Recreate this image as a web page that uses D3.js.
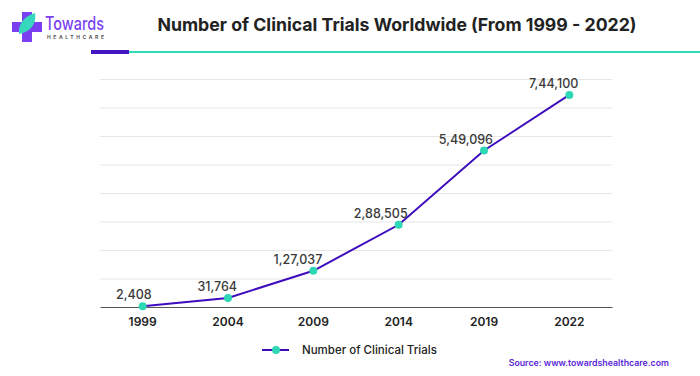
<!DOCTYPE html>
<html>
<head>
<meta charset="utf-8">
<script src="https://cdn.jsdelivr.net/npm/d3@7"></script>
<style>
  body { margin: 0; background: #fff; }
  svg { display: block; font-family: Inter, "Open Sans", sans-serif; }
</style>
</head>
<body>
<svg id="chart" width="700" height="376"></svg>
<script>
const years = ["1999", "2004", "2009", "2014", "2019", "2022"];
const trials = [2408, 31764, 127037, 288505, 549096, 744100];
const yTicks = [0, 100000, 200000, 300000, 400000, 500000, 600000, 700000, 800000];
const seriesName = "Number of Clinical Trials";

const svg = d3.select("#chart");
const margin = { top: 79, right: 88, bottom: 69, left: 100 };
const width = +svg.attr("width") - margin.left - margin.right;
const height = +svg.attr("height") - margin.top - margin.bottom;
const g = svg.append("g").attr("transform", `translate(${margin.left},${margin.top})`);

const lineColor = "#3d0dbd";
const dotColor = "#2fd8b5";

// header: logo
const logo = svg.append("g");
logo.append("rect").attr("x", 22).attr("y", 12).attr("width", 10).attr("height", 30).attr("fill", "#7b3ff2");
logo.append("rect").attr("x", 12).attr("y", 22).attr("width", 30).attr("height", 10).attr("fill", "#7b3ff2");
logo.append("path")
    .attr("d", "M19,34 C18,23 25,16 35,13 C37,24 30,32 19,34 Z")
    .attr("fill", "#36d7bd");
logo.append("text")
    .attr("x", 45).attr("y", 30)
    .attr("textLength", 59).attr("lengthAdjust", "spacingAndGlyphs")
    .style("font-size", "18px").style("font-weight", 500)
    .attr("fill", "#7b3ff2")
    .text("Towards");
logo.append("text")
    .attr("x", 47).attr("y", 39)
    .attr("textLength", 57).attr("lengthAdjust", "spacing")
    .style("font-size", "5px").style("font-weight", 700)
    .attr("fill", "#555")
    .text("HEALTHCARE");

// title
svg.append("text")
    .attr("x", 397).attr("y", 31)
    .attr("text-anchor", "middle")
    .style("font-size", "17.7px").style("font-weight", 700)
    .attr("fill", "#222")
    .text("Number of Clinical Trials Worldwide (From 1999 - 2022)");

svg.append("line")
    .attr("x1", 128).attr("x2", 700).attr("y1", 52).attr("y2", 52)
    .attr("stroke", "#2fdcb8").attr("stroke-width", 2);
svg.append("line")
    .attr("x1", 91).attr("x2", 129).attr("y1", 52).attr("y2", 52)
    .attr("stroke", "#4416c4").attr("stroke-width", 4);

// scales
const x = d3.scaleBand().domain(years).range([0, width]);
const y = d3.scaleLinear().domain([0, 800000]).range([height, 0]);
const cx = d => x(d) + x.bandwidth() / 2;

// gridlines
g.append("g")
    .call(d3.axisLeft(y).tickValues(yTicks.slice(1)).tickSize(-width).tickFormat(""))
    .call(a => a.select(".domain").remove())
    .selectAll("line").attr("stroke", "#e6e6e6");

// x axis
g.append("g")
    .attr("transform", `translate(0,${height})`)
    .call(d3.axisBottom(x).tickSize(0).tickPadding(10))
    .call(a => a.select(".domain").attr("stroke", "#555"))
    .selectAll("text")
    .style("font-size", "12px").style("font-weight", 600)
    .style("font-family", "Inter, sans-serif")
    .attr("fill", "#222");

const data = years.map((yr, i) => ({ year: yr, value: trials[i] }));

g.append("path")
    .datum(data)
    .attr("fill", "none")
    .attr("stroke", lineColor)
    .attr("stroke-width", 2)
    .attr("d", d3.line().x(d => cx(d.year)).y(d => y(d.value)));

g.selectAll(".dot")
    .data(data)
    .enter()
    .append("circle")
    .attr("class", "dot")
    .attr("cx", d => cx(d.year))
    .attr("cy", d => y(d.value))
    .attr("r", 4)
    .attr("fill", dotColor);

const fmt = v => {
    // Indian digit grouping
    const s = String(v);
    if (s.length <= 3) return s;
    const last3 = s.slice(-3);
    const rest = s.slice(0, -3).replace(/\B(?=(\d{2})+(?!\d))/g, ",");
    return rest + "," + last3;
};

g.selectAll(".lbl")
    .data(data)
    .enter()
    .append("text")
    .attr("class", "lbl")
    .attr("x", d => cx(d.year) + 9)
    .attr("y", d => y(d.value) - 7)
    .attr("text-anchor", "end")
    .style("font-size", "12.5px").style("font-weight", 500)
    .attr("fill", "#3a3a3a")
    .text(d => fmt(d.value));

// legend
const legend = svg.append("g").attr("transform", "translate(262,350)");
legend.append("line").attr("x1", 0).attr("x2", 27).attr("y1", 0).attr("y2", 0)
    .attr("stroke", lineColor).attr("stroke-width", 2);
legend.append("circle").attr("cx", 14).attr("cy", 0).attr("r", 4).attr("fill", dotColor);
legend.append("text")
    .attr("x", 40).attr("y", 4.2)
    .style("font-size", "11.5px").style("font-weight", 500)
    .attr("fill", "#222")
    .text(seriesName);

// source
svg.append("text")
    .attr("x", 669).attr("y", 366)
    .attr("text-anchor", "end")
    .style("font-size", "8.8px").style("font-weight", 600)
    .attr("fill", "#5a27d8")
    .text("Source: www.towardshealthcare.com");
</script>
</body>
</html>
